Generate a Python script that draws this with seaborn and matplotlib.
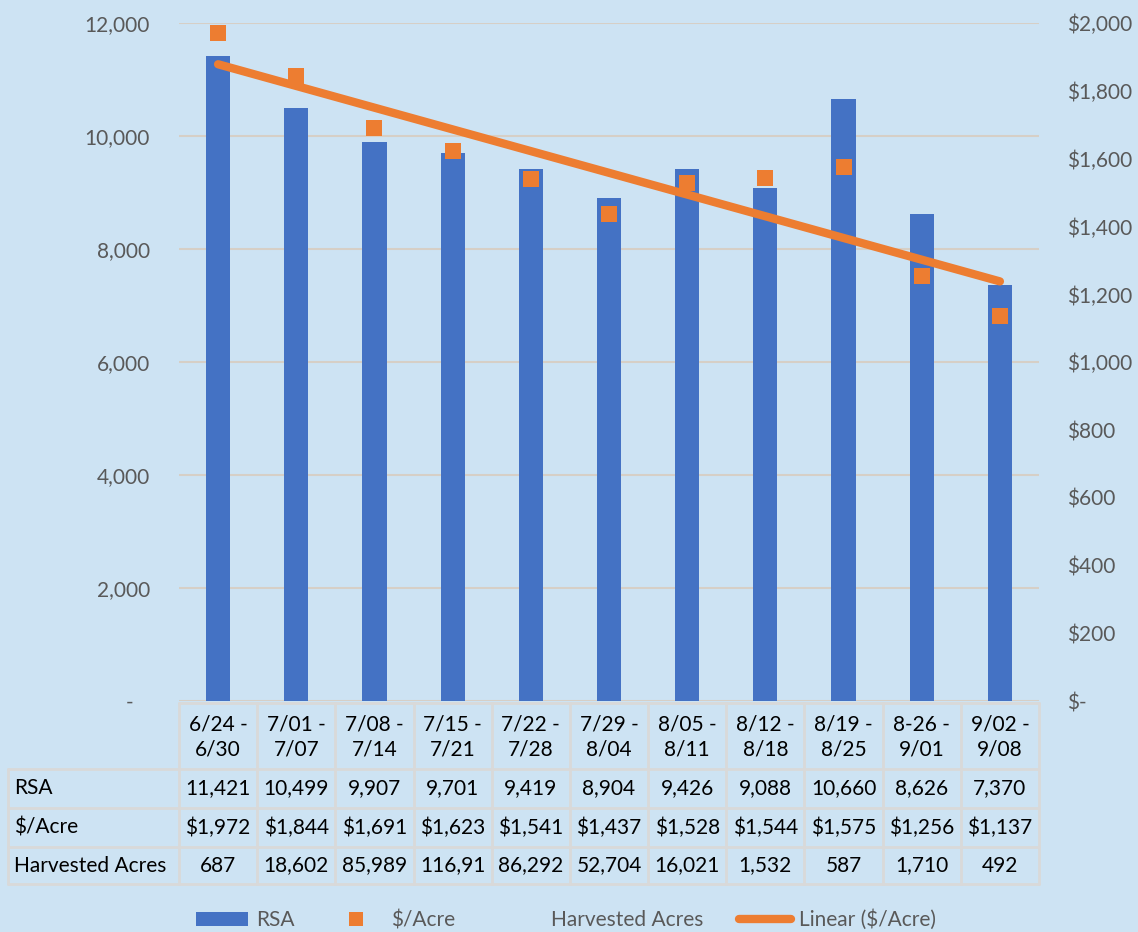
import numpy as np
import pandas as pd
import matplotlib
matplotlib.use("Agg")
import matplotlib.pyplot as plt
import seaborn as sns
from matplotlib.patches import Patch
from matplotlib.lines import Line2D
from matplotlib.transforms import blended_transform_factory
from matplotlib.ticker import FuncFormatter

# ---- data ----
weeks = ["6/24 -\n6/30", "7/01 -\n7/07", "7/08 -\n7/14", "7/15 -\n7/21", "7/22 -\n7/28",
         "7/29 -\n8/04", "8/05 -\n8/11", "8/12 -\n8/18", "8/19 -\n8/25", "8-26 -\n9/01",
         "9/02 -\n9/08"]
rsa = [11421, 10499, 9907, 9701, 9419, 8904, 9426, 9088, 10660, 8626, 7370]
price = [1972, 1844, 1691, 1623, 1541, 1437, 1528, 1544, 1575, 1256, 1137]
harvested_labels = ["687", "18,602", "85,989", "116,91", "86,292", "52,704", "16,021",
                    "1,532", "587", "1,710", "492"]
row_names = ["RSA", "$/Acre", "Harvested Acres"]

BLUE = "#4472C4"
ORANGE = "#ED7D31"
GREY = "#595959"
GRID = "#d6cfc6"
BG = "#cde3f3"
BORDER = "#d9d9d9"

sns.set_style("white")
plt.rcParams["font.family"] = ["Lato", "DejaVu Sans"]

W, H = 1138, 932
fig = plt.figure(figsize=(W / 100, H / 100), dpi=100)
fig.patch.set_facecolor(BG)

# pixel-coordinate overlay (for table)
tab = fig.add_axes([0, 0, 1, 1], zorder=0)
tab.set_xlim(0, W)
tab.set_ylim(H, 0)
tab.axis("off")
tab.patch.set_alpha(0)

left_px, right_px, top_px, bot_px = 179, 1039, 23.3, 701.3
ax = fig.add_axes([left_px / W, 1 - bot_px / H, (right_px - left_px) / W, (bot_px - top_px) / H], zorder=2)
ax.patch.set_alpha(0)

df = pd.DataFrame({"week": weeks, "rsa": rsa, "price": price, "idx": np.arange(len(weeks))})

sns.barplot(data=df, x="week", y="rsa", color=BLUE, saturation=1, width=0.31, ax=ax,
            zorder=2, edgecolor="none", linewidth=0)
ax.set_xlim(-0.5, len(weeks) - 0.5)
ax.set_ylim(0, 12000)
ax.set_yticks(np.arange(0, 12001, 2000))
ax.yaxis.set_major_formatter(FuncFormatter(lambda v, p: "-   " if v == 0 else f"{int(v):,}"))
ax.grid(axis="y", color=GRID, linewidth=1.5)
ax.set_axisbelow(True)
ax.set_xticks([])
ax.set_xlabel("")
ax.set_ylabel("")
ax.tick_params(axis="y", length=0, pad=21, labelsize=15, labelcolor=GREY)
for s in ax.spines.values():
    s.set_visible(False)

ax2 = ax.twinx()
ax2.set_zorder(3)
ax2.patch.set_alpha(0)
sns.regplot(data=df, x="idx", y="price", scatter=False, ci=None, truncate=True, ax=ax2,
            line_kws=dict(color=ORANGE, linewidth=6, solid_capstyle="round", zorder=3))
sns.scatterplot(data=df, x="idx", y="price", marker="s", s=118, color=ORANGE,
                linewidth=0, ax=ax2, zorder=4)
ax2.set_ylim(0, 2000)
ax2.set_yticks(np.arange(0, 2001, 200))
ax2.yaxis.set_major_formatter(FuncFormatter(lambda v, p: "$-" if v == 0 else f"${int(v):,}"))
ax2.tick_params(axis="y", length=0, pad=20, labelsize=15, labelcolor=GREY)
ax2.set_xlabel("")
ax2.set_ylabel("")
ax2.set_xlim(-0.5, len(weeks) - 0.5)
for s in ax2.spines.values():
    s.set_visible(False)

# ---- data table ----
bt = blended_transform_factory(ax.transData, tab.transData)
row_edges = [703, 769, 808, 847, 884]
label_left = 8
n = len(weeks)
lw = 2
tab.plot([left_px, right_px], [row_edges[0]] * 2, color=BORDER, lw=lw, zorder=1)
for y in row_edges[1:]:
    tab.plot([label_left, right_px], [y, y], color=BORDER, lw=lw, zorder=1)
for i in range(n + 1):
    ax_line_x = i - 0.5
    tab.plot([ax_line_x, ax_line_x], [row_edges[0], row_edges[-1]], color=BORDER, lw=lw,
             transform=bt, zorder=1, clip_on=False)
tab.plot([label_left, label_left], [row_edges[1], row_edges[-1]], color=BORDER, lw=lw, zorder=1)

fs = 15
for i, wk in enumerate(weeks):
    tab.text(i, (row_edges[0] + row_edges[1]) / 2 + 1, wk, transform=bt, ha="center",
             va="center", fontsize=fs, color="black", linespacing=1.3)
    vals = [f"{rsa[i]:,}", f"${price[i]:,}", harvested_labels[i]]
    for r, v in enumerate(vals):
        tab.text(i, (row_edges[r + 1] + row_edges[r + 2]) / 2, v, transform=bt, ha="center",
                 va="center", fontsize=fs, color="black")
for r, name in enumerate(row_names):
    tab.text(14, (row_edges[r + 1] + row_edges[r + 2]) / 2, name, ha="left", va="center",
             fontsize=fs, color="black")

# ---- legend ----
handles = [
    Patch(facecolor=BLUE, edgecolor="none"),
    Line2D([], [], linestyle="none", marker="s", markersize=10.5, color=ORANGE, markeredgewidth=0),
    Line2D([], [], linestyle="none", marker=None, color="none"),
    Line2D([], [], color=ORANGE, linewidth=6, solid_capstyle="round"),
]
labels = ["RSA", "$/Acre", "Harvested Acres", "Linear ($/Acre)"]
leg = fig.legend(handles, labels, loc="center", bbox_to_anchor=(566 / W, 1 - 920 / H),
                 ncol=4, frameon=False, fontsize=15, handlelength=2.5, handleheight=0.6,
                 handletextpad=0.4, columnspacing=1.7, labelcolor=GREY)

fig.savefig("out.png", dpi=100, facecolor=fig.get_facecolor())
